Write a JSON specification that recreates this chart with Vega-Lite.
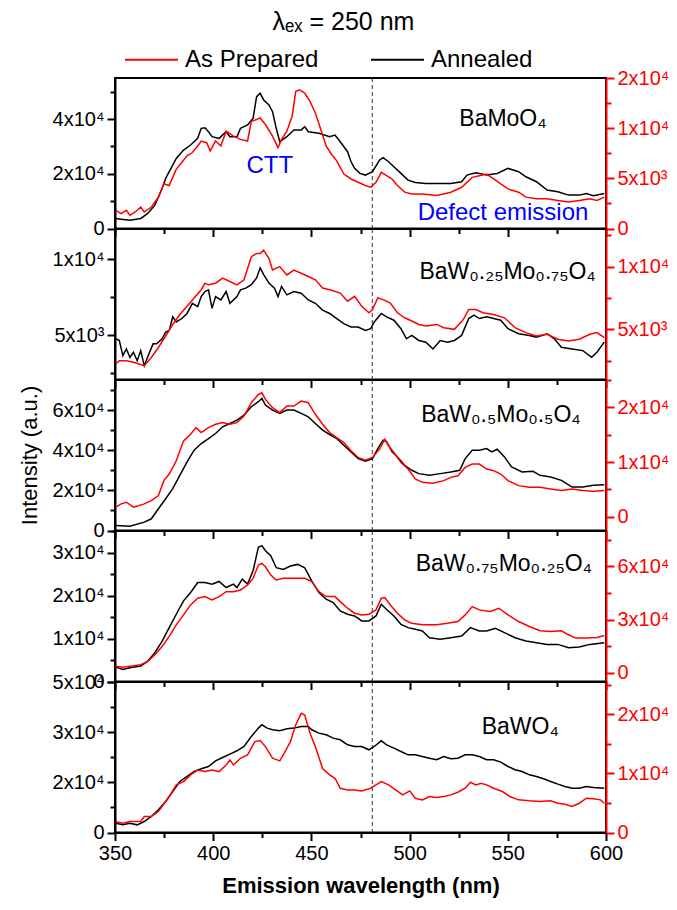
{
"$schema": "https://vega.github.io/schema/vega-lite/v6.json",
"padding": {"left": 17, "top": 10, "right": 5, "bottom": 10},
"bounds": "flush",
"spacing": 0,
"title": {"text": "λₑₓ = 250 nm", "fontSize": 25, "fontWeight": "normal", "font": "Liberation Sans", "anchor": "middle", "offset": -3, "dx": 0, "color": "#000"},
"config": {
  "font": "Liberation Sans",
  "view": {"stroke": "#000", "strokeWidth": 2},
  "axis": {"grid": false, "domainColor": "#000", "domainWidth": 2, "tickColor": "#000", "tickWidth": 2, "labelFontSize": 20, "labelColor": "#000", "labelOverlap": false, "labelFlush": false, "labelBound": false, "labelPadding": 3, "titleFontWeight": "normal", "titleColor": "#000", "labelFont": "Liberation Sans", "titleFont": "Liberation Sans"}
},
"datasets": {
"labels": [
{"p":1,"k":"sample","t":"BaMoO₄","x":525.3,"y":37400},
{"p":1,"k":"note","t":"CTT","x":416.9,"y":20167},
{"p":1,"k":"note","t":"Defect emission","x":504.1,"y":3043},
{"p":2,"k":"sample","t":"BaW₀.₂₅Mo₀.₇₅O₄","x":505.0,"y":8700},
{"p":3,"k":"sample","t":"BaW₀.₅Mo₀.₅O₄","x":505.9,"y":54150},
{"p":4,"k":"sample","t":"BaW₀.₇₅Mo₀.₂₅O₄","x":503.1,"y":25670},
{"p":5,"k":"sample","t":"BaWO₄","x":536.7,"y":29310}
],
"d": [
{"p":1,"s":"A","x":350.4,"v":3660},{"p":1,"s":"A","x":353.1,"v":3420},{"p":1,"s":"A","x":357.6,"v":3050},{"p":1,"s":"A","x":363.1,"v":3660},{"p":1,"s":"A","x":366.7,"v":5490},{"p":1,"s":"A","x":370.3,"v":8540},{"p":1,"s":"A","x":374.0,"v":14640},{"p":1,"s":"A","x":375.8,"v":18300},{"p":1,"s":"A","x":381.2,"v":25620},{"p":1,"s":"A","x":384.9,"v":28670},{"p":1,"s":"A","x":388.5,"v":30500},{"p":1,"s":"A","x":392.1,"v":32940},{"p":1,"s":"A","x":393.9,"v":36600},{"p":1,"s":"A","x":395.8,"v":36840},{"p":1,"s":"A","x":397.6,"v":35380},{"p":1,"s":"A","x":399.4,"v":33550},{"p":1,"s":"A","x":403.0,"v":32940},{"p":1,"s":"A","x":406.6,"v":35380},{"p":1,"s":"A","x":408.5,"v":33550},{"p":1,"s":"A","x":412.1,"v":33550},{"p":1,"s":"A","x":413.9,"v":36600},{"p":1,"s":"A","x":417.5,"v":37820},{"p":1,"s":"A","x":420.3,"v":40260},{"p":1,"s":"A","x":422.1,"v":48190},{"p":1,"s":"A","x":423.9,"v":49410},{"p":1,"s":"A","x":425.7,"v":46970},{"p":1,"s":"A","x":428.4,"v":45140},{"p":1,"s":"A","x":430.2,"v":42700},{"p":1,"s":"A","x":432.1,"v":36600},{"p":1,"s":"A","x":433.9,"v":31720},{"p":1,"s":"A","x":437.5,"v":33550},{"p":1,"s":"A","x":441.1,"v":35990},{"p":1,"s":"A","x":444.8,"v":35990},{"p":1,"s":"A","x":446.6,"v":37210},{"p":1,"s":"A","x":448.4,"v":35380},{"p":1,"s":"A","x":453.8,"v":34770},{"p":1,"s":"A","x":459.3,"v":33550},{"p":1,"s":"A","x":462.0,"v":34160},{"p":1,"s":"A","x":464.7,"v":31720},{"p":1,"s":"A","x":468.4,"v":28060},{"p":1,"s":"A","x":470.2,"v":24400},{"p":1,"s":"A","x":472.0,"v":21960},{"p":1,"s":"A","x":474.7,"v":20130},{"p":1,"s":"A","x":477.5,"v":19520},{"p":1,"s":"A","x":481.1,"v":20740},{"p":1,"s":"A","x":484.7,"v":25010},{"p":1,"s":"A","x":486.5,"v":25860},{"p":1,"s":"A","x":489.3,"v":24400},{"p":1,"s":"A","x":492.0,"v":22570},{"p":1,"s":"A","x":495.6,"v":20130},{"p":1,"s":"A","x":499.2,"v":17690},{"p":1,"s":"A","x":502.9,"v":16840},{"p":1,"s":"A","x":508.3,"v":16470},{"p":1,"s":"A","x":513.8,"v":16470},{"p":1,"s":"A","x":521.0,"v":16470},{"p":1,"s":"A","x":526.5,"v":17080},{"p":1,"s":"A","x":529.2,"v":19520},{"p":1,"s":"A","x":533.7,"v":20370},{"p":1,"s":"A","x":539.2,"v":19520},{"p":1,"s":"A","x":544.6,"v":20130},{"p":1,"s":"A","x":550.1,"v":21960},{"p":1,"s":"A","x":555.5,"v":20740},{"p":1,"s":"A","x":559.2,"v":18910},{"p":1,"s":"A","x":564.6,"v":17080},{"p":1,"s":"A","x":570.0,"v":14030},{"p":1,"s":"A","x":575.5,"v":13420},{"p":1,"s":"A","x":580.9,"v":12200},{"p":1,"s":"A","x":586.4,"v":12200},{"p":1,"s":"A","x":590.0,"v":12810},{"p":1,"s":"A","x":593.6,"v":11960},{"p":1,"s":"A","x":599.1,"v":12810},
{"p":1,"s":"P","x":350.4,"v":1810},{"p":1,"s":"P","x":353.1,"v":1480},{"p":1,"s":"P","x":355.8,"v":1810},{"p":1,"s":"P","x":357.6,"v":1316},{"p":1,"s":"P","x":360.3,"v":1645},{"p":1,"s":"P","x":363.1,"v":2140},{"p":1,"s":"P","x":364.9,"v":1645},{"p":1,"s":"P","x":368.5,"v":2140},{"p":1,"s":"P","x":372.1,"v":3125},{"p":1,"s":"P","x":374.9,"v":4440},{"p":1,"s":"P","x":377.6,"v":4280},{"p":1,"s":"P","x":381.2,"v":5920},{"p":1,"s":"P","x":384.0,"v":6580},{"p":1,"s":"P","x":386.7,"v":7240},{"p":1,"s":"P","x":389.4,"v":7570},{"p":1,"s":"P","x":392.1,"v":8225},{"p":1,"s":"P","x":393.9,"v":8720},{"p":1,"s":"P","x":396.7,"v":8550},{"p":1,"s":"P","x":398.5,"v":7730},{"p":1,"s":"P","x":401.2,"v":8720},{"p":1,"s":"P","x":403.9,"v":8225},{"p":1,"s":"P","x":406.6,"v":9700},{"p":1,"s":"P","x":410.3,"v":9210},{"p":1,"s":"P","x":413.9,"v":8880},{"p":1,"s":"P","x":417.5,"v":8720},{"p":1,"s":"P","x":419.4,"v":10690},{"p":1,"s":"P","x":422.1,"v":10860},{"p":1,"s":"P","x":423.9,"v":11020},{"p":1,"s":"P","x":426.6,"v":10360},{"p":1,"s":"P","x":430.2,"v":9210},{"p":1,"s":"P","x":433.0,"v":8060},{"p":1,"s":"P","x":434.8,"v":8880},{"p":1,"s":"P","x":437.5,"v":9700},{"p":1,"s":"P","x":440.2,"v":11190},{"p":1,"s":"P","x":442.0,"v":13650},{"p":1,"s":"P","x":443.9,"v":13820},{"p":1,"s":"P","x":446.6,"v":13490},{"p":1,"s":"P","x":449.3,"v":12670},{"p":1,"s":"P","x":452.0,"v":11520},{"p":1,"s":"P","x":454.8,"v":9870},{"p":1,"s":"P","x":457.5,"v":8225},{"p":1,"s":"P","x":460.2,"v":7400},{"p":1,"s":"P","x":462.9,"v":6740},{"p":1,"s":"P","x":466.5,"v":5430},{"p":1,"s":"P","x":470.2,"v":4935},{"p":1,"s":"P","x":473.8,"v":4610},{"p":1,"s":"P","x":477.5,"v":4280},{"p":1,"s":"P","x":480.2,"v":4110},{"p":1,"s":"P","x":482.9,"v":4610},{"p":1,"s":"P","x":485.6,"v":5590},{"p":1,"s":"P","x":488.3,"v":5260},{"p":1,"s":"P","x":491.1,"v":4935},{"p":1,"s":"P","x":493.8,"v":4280},{"p":1,"s":"P","x":497.5,"v":3620},{"p":1,"s":"P","x":501.1,"v":3450},{"p":1,"s":"P","x":506.5,"v":3450},{"p":1,"s":"P","x":513.8,"v":3290},{"p":1,"s":"P","x":521.0,"v":3620},{"p":1,"s":"P","x":526.5,"v":4110},{"p":1,"s":"P","x":531.9,"v":5100},{"p":1,"s":"P","x":535.5,"v":5260},{"p":1,"s":"P","x":539.2,"v":5430},{"p":1,"s":"P","x":542.8,"v":4935},{"p":1,"s":"P","x":546.4,"v":4440},{"p":1,"s":"P","x":550.1,"v":3950},{"p":1,"s":"P","x":555.5,"v":3620},{"p":1,"s":"P","x":559.2,"v":3125},{"p":1,"s":"P","x":564.6,"v":2960},{"p":1,"s":"P","x":570.0,"v":2960},{"p":1,"s":"P","x":575.5,"v":2800},{"p":1,"s":"P","x":580.9,"v":2630},{"p":1,"s":"P","x":586.4,"v":2800},{"p":1,"s":"P","x":591.8,"v":2960},{"p":1,"s":"P","x":595.4,"v":2800},{"p":1,"s":"P","x":599.1,"v":3125},
{"p":2,"s":"A","x":350.4,"v":4778},{"p":2,"s":"A","x":352.2,"v":4667},{"p":2,"s":"A","x":354.0,"v":3667},{"p":2,"s":"A","x":355.8,"v":4111},{"p":2,"s":"A","x":357.6,"v":3556},{"p":2,"s":"A","x":359.4,"v":3889},{"p":2,"s":"A","x":361.3,"v":3333},{"p":2,"s":"A","x":363.1,"v":4000},{"p":2,"s":"A","x":364.9,"v":3000},{"p":2,"s":"A","x":367.6,"v":3889},{"p":2,"s":"A","x":369.4,"v":4444},{"p":2,"s":"A","x":371.2,"v":4444},{"p":2,"s":"A","x":374.0,"v":4778},{"p":2,"s":"A","x":375.8,"v":5222},{"p":2,"s":"A","x":377.6,"v":5333},{"p":2,"s":"A","x":379.4,"v":6222},{"p":2,"s":"A","x":381.2,"v":5889},{"p":2,"s":"A","x":384.0,"v":6111},{"p":2,"s":"A","x":386.7,"v":6444},{"p":2,"s":"A","x":389.4,"v":7111},{"p":2,"s":"A","x":392.1,"v":6889},{"p":2,"s":"A","x":393.9,"v":7556},{"p":2,"s":"A","x":395.8,"v":7889},{"p":2,"s":"A","x":397.6,"v":8000},{"p":2,"s":"A","x":399.4,"v":6778},{"p":2,"s":"A","x":401.2,"v":7556},{"p":2,"s":"A","x":403.9,"v":7333},{"p":2,"s":"A","x":406.6,"v":7889},{"p":2,"s":"A","x":408.5,"v":7111},{"p":2,"s":"A","x":412.1,"v":7556},{"p":2,"s":"A","x":413.9,"v":8000},{"p":2,"s":"A","x":416.6,"v":8111},{"p":2,"s":"A","x":419.4,"v":8333},{"p":2,"s":"A","x":422.1,"v":8778},{"p":2,"s":"A","x":423.9,"v":9444},{"p":2,"s":"A","x":425.7,"v":9000},{"p":2,"s":"A","x":428.4,"v":8444},{"p":2,"s":"A","x":431.2,"v":8111},{"p":2,"s":"A","x":433.0,"v":7556},{"p":2,"s":"A","x":434.8,"v":8222},{"p":2,"s":"A","x":437.5,"v":7667},{"p":2,"s":"A","x":441.1,"v":7889},{"p":2,"s":"A","x":444.8,"v":7778},{"p":2,"s":"A","x":448.4,"v":7333},{"p":2,"s":"A","x":452.0,"v":7111},{"p":2,"s":"A","x":455.7,"v":6667},{"p":2,"s":"A","x":459.3,"v":6444},{"p":2,"s":"A","x":462.9,"v":6111},{"p":2,"s":"A","x":466.5,"v":5778},{"p":2,"s":"A","x":470.2,"v":5556},{"p":2,"s":"A","x":473.8,"v":5556},{"p":2,"s":"A","x":477.5,"v":5333},{"p":2,"s":"A","x":480.2,"v":5444},{"p":2,"s":"A","x":482.0,"v":5889},{"p":2,"s":"A","x":485.6,"v":6444},{"p":2,"s":"A","x":488.3,"v":6222},{"p":2,"s":"A","x":492.0,"v":6000},{"p":2,"s":"A","x":495.6,"v":5444},{"p":2,"s":"A","x":498.4,"v":4778},{"p":2,"s":"A","x":501.1,"v":5000},{"p":2,"s":"A","x":504.7,"v":4667},{"p":2,"s":"A","x":508.3,"v":4556},{"p":2,"s":"A","x":511.9,"v":4111},{"p":2,"s":"A","x":515.6,"v":4667},{"p":2,"s":"A","x":519.2,"v":4556},{"p":2,"s":"A","x":522.8,"v":4667},{"p":2,"s":"A","x":526.5,"v":5000},{"p":2,"s":"A","x":530.1,"v":6111},{"p":2,"s":"A","x":532.8,"v":6333},{"p":2,"s":"A","x":535.5,"v":6111},{"p":2,"s":"A","x":539.2,"v":6222},{"p":2,"s":"A","x":542.8,"v":6111},{"p":2,"s":"A","x":546.4,"v":6000},{"p":2,"s":"A","x":550.1,"v":5444},{"p":2,"s":"A","x":555.5,"v":5111},{"p":2,"s":"A","x":561.0,"v":5000},{"p":2,"s":"A","x":564.6,"v":4889},{"p":2,"s":"A","x":570.0,"v":5111},{"p":2,"s":"A","x":573.7,"v":4778},{"p":2,"s":"A","x":577.3,"v":4222},{"p":2,"s":"A","x":582.7,"v":4111},{"p":2,"s":"A","x":588.2,"v":4000},{"p":2,"s":"A","x":592.7,"v":3556},{"p":2,"s":"A","x":595.4,"v":3889},{"p":2,"s":"A","x":599.1,"v":4556},
{"p":2,"s":"P","x":350.4,"v":2240},{"p":2,"s":"P","x":352.2,"v":2500},{"p":2,"s":"P","x":355.8,"v":2500},{"p":2,"s":"P","x":359.4,"v":2370},{"p":2,"s":"P","x":364.9,"v":2100},{"p":2,"s":"P","x":368.5,"v":2760},{"p":2,"s":"P","x":372.1,"v":3550},{"p":2,"s":"P","x":375.8,"v":4470},{"p":2,"s":"P","x":379.4,"v":5390},{"p":2,"s":"P","x":383.0,"v":6180},{"p":2,"s":"P","x":386.7,"v":6840},{"p":2,"s":"P","x":390.3,"v":7500},{"p":2,"s":"P","x":393.9,"v":8160},{"p":2,"s":"P","x":395.8,"v":8680},{"p":2,"s":"P","x":397.6,"v":8550},{"p":2,"s":"P","x":401.2,"v":8680},{"p":2,"s":"P","x":404.8,"v":9080},{"p":2,"s":"P","x":408.5,"v":8810},{"p":2,"s":"P","x":412.1,"v":8550},{"p":2,"s":"P","x":415.7,"v":8950},{"p":2,"s":"P","x":419.4,"v":10790},{"p":2,"s":"P","x":422.1,"v":11050},{"p":2,"s":"P","x":423.9,"v":11050},{"p":2,"s":"P","x":425.7,"v":11310},{"p":2,"s":"P","x":428.4,"v":10650},{"p":2,"s":"P","x":430.2,"v":9730},{"p":2,"s":"P","x":433.9,"v":10000},{"p":2,"s":"P","x":437.5,"v":9340},{"p":2,"s":"P","x":441.1,"v":9730},{"p":2,"s":"P","x":444.8,"v":9470},{"p":2,"s":"P","x":448.4,"v":9210},{"p":2,"s":"P","x":452.0,"v":8950},{"p":2,"s":"P","x":455.7,"v":8290},{"p":2,"s":"P","x":459.3,"v":8160},{"p":2,"s":"P","x":464.7,"v":7890},{"p":2,"s":"P","x":468.4,"v":7240},{"p":2,"s":"P","x":472.0,"v":7630},{"p":2,"s":"P","x":475.6,"v":6840},{"p":2,"s":"P","x":479.3,"v":6320},{"p":2,"s":"P","x":481.1,"v":6580},{"p":2,"s":"P","x":483.8,"v":7500},{"p":2,"s":"P","x":486.5,"v":7370},{"p":2,"s":"P","x":490.2,"v":7100},{"p":2,"s":"P","x":493.8,"v":6320},{"p":2,"s":"P","x":497.5,"v":5920},{"p":2,"s":"P","x":501.1,"v":5660},{"p":2,"s":"P","x":504.7,"v":5390},{"p":2,"s":"P","x":508.3,"v":5260},{"p":2,"s":"P","x":513.8,"v":5390},{"p":2,"s":"P","x":517.4,"v":5130},{"p":2,"s":"P","x":522.8,"v":5000},{"p":2,"s":"P","x":527.4,"v":5790},{"p":2,"s":"P","x":530.1,"v":6580},{"p":2,"s":"P","x":533.7,"v":6580},{"p":2,"s":"P","x":537.4,"v":6320},{"p":2,"s":"P","x":542.8,"v":6180},{"p":2,"s":"P","x":548.3,"v":5920},{"p":2,"s":"P","x":553.7,"v":5130},{"p":2,"s":"P","x":559.2,"v":4740},{"p":2,"s":"P","x":564.6,"v":4470},{"p":2,"s":"P","x":570.0,"v":4610},{"p":2,"s":"P","x":575.5,"v":4210},{"p":2,"s":"P","x":580.9,"v":4080},{"p":2,"s":"P","x":586.4,"v":4210},{"p":2,"s":"P","x":591.8,"v":4610},{"p":2,"s":"P","x":595.4,"v":4740},{"p":2,"s":"P","x":599.1,"v":4340},
{"p":3,"s":"A","x":350.4,"v":2500},{"p":3,"s":"A","x":357.6,"v":2170},{"p":3,"s":"A","x":364.9,"v":4170},{"p":3,"s":"A","x":368.5,"v":5830},{"p":3,"s":"A","x":372.1,"v":10830},{"p":3,"s":"A","x":375.8,"v":15830},{"p":3,"s":"A","x":379.4,"v":20840},{"p":3,"s":"A","x":383.0,"v":27500},{"p":3,"s":"A","x":386.7,"v":34170},{"p":3,"s":"A","x":390.3,"v":40010},{"p":3,"s":"A","x":393.9,"v":43340},{"p":3,"s":"A","x":397.6,"v":45840},{"p":3,"s":"A","x":401.2,"v":48340},{"p":3,"s":"A","x":404.8,"v":51680},{"p":3,"s":"A","x":408.5,"v":53340},{"p":3,"s":"A","x":412.1,"v":55010},{"p":3,"s":"A","x":415.7,"v":57510},{"p":3,"s":"A","x":419.4,"v":61680},{"p":3,"s":"A","x":423.0,"v":64180},{"p":3,"s":"A","x":424.8,"v":65850},{"p":3,"s":"A","x":426.6,"v":62510},{"p":3,"s":"A","x":430.2,"v":60010},{"p":3,"s":"A","x":433.9,"v":58340},{"p":3,"s":"A","x":437.5,"v":60010},{"p":3,"s":"A","x":441.1,"v":60010},{"p":3,"s":"A","x":444.8,"v":58340},{"p":3,"s":"A","x":448.4,"v":56680},{"p":3,"s":"A","x":452.0,"v":53340},{"p":3,"s":"A","x":455.7,"v":50010},{"p":3,"s":"A","x":459.3,"v":47840},{"p":3,"s":"A","x":462.9,"v":45840},{"p":3,"s":"A","x":466.5,"v":42510},{"p":3,"s":"A","x":470.2,"v":39180},{"p":3,"s":"A","x":473.8,"v":35840},{"p":3,"s":"A","x":477.5,"v":34510},{"p":3,"s":"A","x":481.1,"v":35840},{"p":3,"s":"A","x":483.8,"v":40840},{"p":3,"s":"A","x":486.5,"v":45010},{"p":3,"s":"A","x":488.3,"v":44170},{"p":3,"s":"A","x":491.1,"v":39180},{"p":3,"s":"A","x":493.8,"v":36670},{"p":3,"s":"A","x":497.5,"v":32510},{"p":3,"s":"A","x":501.1,"v":30010},{"p":3,"s":"A","x":504.7,"v":28340},{"p":3,"s":"A","x":510.1,"v":27510},{"p":3,"s":"A","x":515.6,"v":28340},{"p":3,"s":"A","x":521.0,"v":29170},{"p":3,"s":"A","x":525.5,"v":30010},{"p":3,"s":"A","x":528.3,"v":35840},{"p":3,"s":"A","x":531.9,"v":40010},{"p":3,"s":"A","x":535.5,"v":40010},{"p":3,"s":"A","x":539.2,"v":40840},{"p":3,"s":"A","x":541.9,"v":39180},{"p":3,"s":"A","x":544.6,"v":40510},{"p":3,"s":"A","x":548.3,"v":36670},{"p":3,"s":"A","x":551.9,"v":31670},{"p":3,"s":"A","x":557.3,"v":29170},{"p":3,"s":"A","x":562.8,"v":29510},{"p":3,"s":"A","x":566.4,"v":27510},{"p":3,"s":"A","x":571.8,"v":26670},{"p":3,"s":"A","x":577.3,"v":25010},{"p":3,"s":"A","x":582.7,"v":21670},{"p":3,"s":"A","x":588.2,"v":21670},{"p":3,"s":"A","x":593.6,"v":22500},{"p":3,"s":"A","x":599.1,"v":22840},
{"p":3,"s":"P","x":350.4,"v":1760},{"p":3,"s":"P","x":353.1,"v":2360},{"p":3,"s":"P","x":355.8,"v":2670},{"p":3,"s":"P","x":359.4,"v":1760},{"p":3,"s":"P","x":364.9,"v":2360},{"p":3,"s":"P","x":368.5,"v":2970},{"p":3,"s":"P","x":372.1,"v":3880},{"p":3,"s":"P","x":374.9,"v":6610},{"p":3,"s":"P","x":377.6,"v":7820},{"p":3,"s":"P","x":381.2,"v":10240},{"p":3,"s":"P","x":384.9,"v":13880},{"p":3,"s":"P","x":388.5,"v":15090},{"p":3,"s":"P","x":391.2,"v":16300},{"p":3,"s":"P","x":393.9,"v":15390},{"p":3,"s":"P","x":397.6,"v":16300},{"p":3,"s":"P","x":401.2,"v":16910},{"p":3,"s":"P","x":404.8,"v":17210},{"p":3,"s":"P","x":408.5,"v":16910},{"p":3,"s":"P","x":412.1,"v":17210},{"p":3,"s":"P","x":415.7,"v":18420},{"p":3,"s":"P","x":419.4,"v":20850},{"p":3,"s":"P","x":423.0,"v":22360},{"p":3,"s":"P","x":424.8,"v":22660},{"p":3,"s":"P","x":426.6,"v":21450},{"p":3,"s":"P","x":430.2,"v":19940},{"p":3,"s":"P","x":433.9,"v":19030},{"p":3,"s":"P","x":437.5,"v":20240},{"p":3,"s":"P","x":441.1,"v":20240},{"p":3,"s":"P","x":444.8,"v":21150},{"p":3,"s":"P","x":448.4,"v":20850},{"p":3,"s":"P","x":452.0,"v":18730},{"p":3,"s":"P","x":455.7,"v":16910},{"p":3,"s":"P","x":459.3,"v":15390},{"p":3,"s":"P","x":462.9,"v":14480},{"p":3,"s":"P","x":466.5,"v":13570},{"p":3,"s":"P","x":470.2,"v":12060},{"p":3,"s":"P","x":473.8,"v":10850},{"p":3,"s":"P","x":477.5,"v":10360},{"p":3,"s":"P","x":481.1,"v":10850},{"p":3,"s":"P","x":484.7,"v":12360},{"p":3,"s":"P","x":487.4,"v":14180},{"p":3,"s":"P","x":489.3,"v":12970},{"p":3,"s":"P","x":492.0,"v":11760},{"p":3,"s":"P","x":495.6,"v":9940},{"p":3,"s":"P","x":499.2,"v":8730},{"p":3,"s":"P","x":502.9,"v":6910},{"p":3,"s":"P","x":506.5,"v":6300},{"p":3,"s":"P","x":511.9,"v":6120},{"p":3,"s":"P","x":517.4,"v":6610},{"p":3,"s":"P","x":521.0,"v":7210},{"p":3,"s":"P","x":524.6,"v":7510},{"p":3,"s":"P","x":528.3,"v":9030},{"p":3,"s":"P","x":531.9,"v":9640},{"p":3,"s":"P","x":535.5,"v":9640},{"p":3,"s":"P","x":539.2,"v":8730},{"p":3,"s":"P","x":542.8,"v":8430},{"p":3,"s":"P","x":546.4,"v":7820},{"p":3,"s":"P","x":550.1,"v":6610},{"p":3,"s":"P","x":555.5,"v":5700},{"p":3,"s":"P","x":561.0,"v":5390},{"p":3,"s":"P","x":566.4,"v":5390},{"p":3,"s":"P","x":571.8,"v":5090},{"p":3,"s":"P","x":577.3,"v":4790},{"p":3,"s":"P","x":582.7,"v":5090},{"p":3,"s":"P","x":588.2,"v":4790},{"p":3,"s":"P","x":593.6,"v":4670},{"p":3,"s":"P","x":599.1,"v":4790},
{"p":4,"s":"A","x":350.4,"v":3350},{"p":4,"s":"A","x":354.0,"v":2800},{"p":4,"s":"A","x":357.6,"v":3190},{"p":4,"s":"A","x":363.1,"v":3580},{"p":4,"s":"A","x":366.7,"v":4750},{"p":4,"s":"A","x":370.3,"v":6690},{"p":4,"s":"A","x":374.0,"v":9410},{"p":4,"s":"A","x":377.6,"v":12530},{"p":4,"s":"A","x":381.2,"v":15640},{"p":4,"s":"A","x":384.9,"v":18750},{"p":4,"s":"A","x":388.5,"v":20690},{"p":4,"s":"A","x":392.1,"v":23030},{"p":4,"s":"A","x":395.8,"v":23030},{"p":4,"s":"A","x":399.4,"v":22640},{"p":4,"s":"A","x":403.0,"v":23260},{"p":4,"s":"A","x":406.6,"v":21860},{"p":4,"s":"A","x":410.3,"v":22640},{"p":4,"s":"A","x":412.1,"v":21860},{"p":4,"s":"A","x":414.8,"v":23810},{"p":4,"s":"A","x":417.5,"v":22640},{"p":4,"s":"A","x":420.3,"v":25750},{"p":4,"s":"A","x":423.0,"v":31200},{"p":4,"s":"A","x":424.8,"v":31590},{"p":4,"s":"A","x":426.6,"v":30420},{"p":4,"s":"A","x":429.3,"v":29250},{"p":4,"s":"A","x":432.1,"v":26460},{"p":4,"s":"A","x":435.7,"v":26070},{"p":4,"s":"A","x":439.3,"v":26850},{"p":4,"s":"A","x":443.0,"v":27230},{"p":4,"s":"A","x":446.6,"v":26460},{"p":4,"s":"A","x":450.2,"v":23340},{"p":4,"s":"A","x":453.8,"v":20690},{"p":4,"s":"A","x":457.5,"v":19140},{"p":4,"s":"A","x":461.1,"v":18360},{"p":4,"s":"A","x":464.7,"v":16420},{"p":4,"s":"A","x":468.4,"v":15640},{"p":4,"s":"A","x":472.0,"v":15250},{"p":4,"s":"A","x":475.6,"v":14080},{"p":4,"s":"A","x":479.3,"v":14080},{"p":4,"s":"A","x":482.9,"v":15250},{"p":4,"s":"A","x":485.6,"v":17970},{"p":4,"s":"A","x":488.3,"v":16730},{"p":4,"s":"A","x":492.0,"v":15250},{"p":4,"s":"A","x":495.6,"v":13300},{"p":4,"s":"A","x":499.2,"v":12530},{"p":4,"s":"A","x":502.9,"v":12140},{"p":4,"s":"A","x":506.5,"v":11750},{"p":4,"s":"A","x":510.1,"v":10190},{"p":4,"s":"A","x":515.6,"v":9800},{"p":4,"s":"A","x":521.0,"v":10190},{"p":4,"s":"A","x":526.5,"v":10580},{"p":4,"s":"A","x":531.0,"v":12530},{"p":4,"s":"A","x":535.5,"v":11750},{"p":4,"s":"A","x":539.2,"v":11750},{"p":4,"s":"A","x":543.7,"v":12370},{"p":4,"s":"A","x":548.3,"v":11360},{"p":4,"s":"A","x":553.7,"v":10190},{"p":4,"s":"A","x":559.2,"v":9410},{"p":4,"s":"A","x":564.6,"v":9020},{"p":4,"s":"A","x":570.0,"v":8630},{"p":4,"s":"A","x":575.5,"v":8630},{"p":4,"s":"A","x":580.9,"v":7860},{"p":4,"s":"A","x":586.4,"v":8010},{"p":4,"s":"A","x":591.8,"v":8630},{"p":4,"s":"A","x":599.1,"v":9020},
{"p":4,"s":"P","x":350.4,"v":3560},{"p":4,"s":"P","x":354.0,"v":3000},{"p":4,"s":"P","x":357.6,"v":3560},{"p":4,"s":"P","x":363.1,"v":4500},{"p":4,"s":"P","x":366.7,"v":6380},{"p":4,"s":"P","x":370.3,"v":10130},{"p":4,"s":"P","x":374.0,"v":14810},{"p":4,"s":"P","x":377.6,"v":20440},{"p":4,"s":"P","x":381.2,"v":27000},{"p":4,"s":"P","x":384.9,"v":32630},{"p":4,"s":"P","x":388.5,"v":38250},{"p":4,"s":"P","x":392.1,"v":42000},{"p":4,"s":"P","x":395.8,"v":42940},{"p":4,"s":"P","x":399.4,"v":41060},{"p":4,"s":"P","x":403.0,"v":42940},{"p":4,"s":"P","x":406.6,"v":45750},{"p":4,"s":"P","x":410.3,"v":45750},{"p":4,"s":"P","x":413.9,"v":46690},{"p":4,"s":"P","x":417.5,"v":49500},{"p":4,"s":"P","x":420.3,"v":53250},{"p":4,"s":"P","x":423.0,"v":60750},{"p":4,"s":"P","x":424.8,"v":61690},{"p":4,"s":"P","x":426.6,"v":59810},{"p":4,"s":"P","x":429.3,"v":55130},{"p":4,"s":"P","x":432.1,"v":52310},{"p":4,"s":"P","x":435.7,"v":53250},{"p":4,"s":"P","x":441.1,"v":53250},{"p":4,"s":"P","x":446.6,"v":53250},{"p":4,"s":"P","x":450.2,"v":51380},{"p":4,"s":"P","x":453.8,"v":45750},{"p":4,"s":"P","x":457.5,"v":42940},{"p":4,"s":"P","x":462.0,"v":42940},{"p":4,"s":"P","x":464.7,"v":40130},{"p":4,"s":"P","x":468.4,"v":36380},{"p":4,"s":"P","x":472.0,"v":33560},{"p":4,"s":"P","x":475.6,"v":32630},{"p":4,"s":"P","x":479.3,"v":33000},{"p":4,"s":"P","x":482.9,"v":35440},{"p":4,"s":"P","x":485.6,"v":42000},{"p":4,"s":"P","x":487.4,"v":42380},{"p":4,"s":"P","x":490.2,"v":38250},{"p":4,"s":"P","x":493.8,"v":33560},{"p":4,"s":"P","x":497.5,"v":29810},{"p":4,"s":"P","x":501.1,"v":27940},{"p":4,"s":"P","x":506.5,"v":27000},{"p":4,"s":"P","x":513.8,"v":27000},{"p":4,"s":"P","x":519.2,"v":27940},{"p":4,"s":"P","x":524.6,"v":28880},{"p":4,"s":"P","x":528.3,"v":32630},{"p":4,"s":"P","x":531.9,"v":37310},{"p":4,"s":"P","x":535.5,"v":35440},{"p":4,"s":"P","x":541.0,"v":34500},{"p":4,"s":"P","x":545.5,"v":36380},{"p":4,"s":"P","x":550.1,"v":32630},{"p":4,"s":"P","x":555.5,"v":28880},{"p":4,"s":"P","x":561.0,"v":26060},{"p":4,"s":"P","x":566.4,"v":23630},{"p":4,"s":"P","x":571.8,"v":23250},{"p":4,"s":"P","x":577.3,"v":23630},{"p":4,"s":"P","x":580.9,"v":21380},{"p":4,"s":"P","x":584.6,"v":19500},{"p":4,"s":"P","x":590.0,"v":19500},{"p":4,"s":"P","x":595.4,"v":19880},{"p":4,"s":"P","x":599.1,"v":21000},
{"p":5,"s":"A","x":350.4,"v":2790},{"p":5,"s":"A","x":354.0,"v":2290},{"p":5,"s":"A","x":357.6,"v":2790},{"p":5,"s":"A","x":361.3,"v":2290},{"p":5,"s":"A","x":364.9,"v":3290},{"p":5,"s":"A","x":368.5,"v":4790},{"p":5,"s":"A","x":372.1,"v":6780},{"p":5,"s":"A","x":375.8,"v":9270},{"p":5,"s":"A","x":379.4,"v":12260},{"p":5,"s":"A","x":383.0,"v":15250},{"p":5,"s":"A","x":386.7,"v":16750},{"p":5,"s":"A","x":390.3,"v":18250},{"p":5,"s":"A","x":393.9,"v":19040},{"p":5,"s":"A","x":397.6,"v":19740},{"p":5,"s":"A","x":401.2,"v":21440},{"p":5,"s":"A","x":404.8,"v":22430},{"p":5,"s":"A","x":408.5,"v":23430},{"p":5,"s":"A","x":412.1,"v":24430},{"p":5,"s":"A","x":415.7,"v":25720},{"p":5,"s":"A","x":419.4,"v":28710},{"p":5,"s":"A","x":423.0,"v":31210},{"p":5,"s":"A","x":424.8,"v":32200},{"p":5,"s":"A","x":427.5,"v":31210},{"p":5,"s":"A","x":430.2,"v":30710},{"p":5,"s":"A","x":433.9,"v":30410},{"p":5,"s":"A","x":437.5,"v":31010},{"p":5,"s":"A","x":441.1,"v":31210},{"p":5,"s":"A","x":444.8,"v":31710},{"p":5,"s":"A","x":448.4,"v":31710},{"p":5,"s":"A","x":450.2,"v":30710},{"p":5,"s":"A","x":453.8,"v":29710},{"p":5,"s":"A","x":457.5,"v":29210},{"p":5,"s":"A","x":461.1,"v":28210},{"p":5,"s":"A","x":464.7,"v":27720},{"p":5,"s":"A","x":468.4,"v":26220},{"p":5,"s":"A","x":472.0,"v":25720},{"p":5,"s":"A","x":475.6,"v":25720},{"p":5,"s":"A","x":479.3,"v":24730},{"p":5,"s":"A","x":482.0,"v":25720},{"p":5,"s":"A","x":485.6,"v":27420},{"p":5,"s":"A","x":488.3,"v":26220},{"p":5,"s":"A","x":492.0,"v":25220},{"p":5,"s":"A","x":495.6,"v":24230},{"p":5,"s":"A","x":499.2,"v":23230},{"p":5,"s":"A","x":502.9,"v":23230},{"p":5,"s":"A","x":506.5,"v":22730},{"p":5,"s":"A","x":510.1,"v":22230},{"p":5,"s":"A","x":513.8,"v":21740},{"p":5,"s":"A","x":517.4,"v":22730},{"p":5,"s":"A","x":521.0,"v":22030},{"p":5,"s":"A","x":524.6,"v":22230},{"p":5,"s":"A","x":528.3,"v":23230},{"p":5,"s":"A","x":531.9,"v":23230},{"p":5,"s":"A","x":535.5,"v":22730},{"p":5,"s":"A","x":539.2,"v":21740},{"p":5,"s":"A","x":542.8,"v":21740},{"p":5,"s":"A","x":546.4,"v":21040},{"p":5,"s":"A","x":550.1,"v":19740},{"p":5,"s":"A","x":553.7,"v":18750},{"p":5,"s":"A","x":557.3,"v":18250},{"p":5,"s":"A","x":561.0,"v":17250},{"p":5,"s":"A","x":564.6,"v":16750},{"p":5,"s":"A","x":568.2,"v":16050},{"p":5,"s":"A","x":571.8,"v":15250},{"p":5,"s":"A","x":575.5,"v":14460},{"p":5,"s":"A","x":579.1,"v":13760},{"p":5,"s":"A","x":582.7,"v":13260},{"p":5,"s":"A","x":586.4,"v":13260},{"p":5,"s":"A","x":590.0,"v":13760},{"p":5,"s":"A","x":593.6,"v":13460},{"p":5,"s":"A","x":599.1,"v":13260},
{"p":5,"s":"P","x":350.4,"v":1860},{"p":5,"s":"P","x":354.0,"v":1580},{"p":5,"s":"P","x":357.6,"v":1860},{"p":5,"s":"P","x":363.1,"v":1860},{"p":5,"s":"P","x":364.9,"v":2710},{"p":5,"s":"P","x":368.5,"v":2710},{"p":5,"s":"P","x":372.1,"v":3550},{"p":5,"s":"P","x":375.8,"v":5250},{"p":5,"s":"P","x":377.6,"v":6090},{"p":5,"s":"P","x":381.2,"v":8070},{"p":5,"s":"P","x":384.9,"v":8630},{"p":5,"s":"P","x":388.5,"v":9760},{"p":5,"s":"P","x":392.1,"v":10600},{"p":5,"s":"P","x":395.8,"v":10320},{"p":5,"s":"P","x":399.4,"v":10600},{"p":5,"s":"P","x":403.0,"v":10320},{"p":5,"s":"P","x":406.6,"v":11450},{"p":5,"s":"P","x":408.5,"v":12300},{"p":5,"s":"P","x":410.3,"v":11450},{"p":5,"s":"P","x":413.9,"v":12580},{"p":5,"s":"P","x":417.5,"v":13160},{"p":5,"s":"P","x":421.2,"v":15400},{"p":5,"s":"P","x":423.9,"v":15570},{"p":5,"s":"P","x":426.6,"v":14550},{"p":5,"s":"P","x":430.2,"v":12580},{"p":5,"s":"P","x":433.9,"v":12130},{"p":5,"s":"P","x":436.6,"v":13710},{"p":5,"s":"P","x":439.3,"v":15400},{"p":5,"s":"P","x":442.0,"v":18220},{"p":5,"s":"P","x":444.8,"v":20190},{"p":5,"s":"P","x":446.6,"v":19910},{"p":5,"s":"P","x":449.3,"v":16810},{"p":5,"s":"P","x":452.0,"v":14550},{"p":5,"s":"P","x":455.7,"v":10830},{"p":5,"s":"P","x":459.3,"v":9760},{"p":5,"s":"P","x":462.0,"v":9190},{"p":5,"s":"P","x":464.7,"v":7500},{"p":5,"s":"P","x":468.4,"v":7220},{"p":5,"s":"P","x":472.0,"v":7220},{"p":5,"s":"P","x":475.6,"v":7050},{"p":5,"s":"P","x":480.2,"v":7500},{"p":5,"s":"P","x":482.9,"v":8070},{"p":5,"s":"P","x":485.6,"v":8630},{"p":5,"s":"P","x":489.3,"v":8070},{"p":5,"s":"P","x":492.9,"v":7220},{"p":5,"s":"P","x":496.5,"v":6370},{"p":5,"s":"P","x":500.1,"v":7050},{"p":5,"s":"P","x":502.9,"v":5810},{"p":5,"s":"P","x":506.5,"v":5530},{"p":5,"s":"P","x":510.1,"v":6090},{"p":5,"s":"P","x":513.8,"v":5920},{"p":5,"s":"P","x":517.4,"v":6090},{"p":5,"s":"P","x":521.0,"v":6370},{"p":5,"s":"P","x":524.6,"v":6820},{"p":5,"s":"P","x":528.3,"v":7500},{"p":5,"s":"P","x":531.0,"v":8520},{"p":5,"s":"P","x":533.7,"v":8070},{"p":5,"s":"P","x":536.4,"v":8350},{"p":5,"s":"P","x":539.2,"v":8070},{"p":5,"s":"P","x":542.8,"v":7500},{"p":5,"s":"P","x":547.3,"v":6940},{"p":5,"s":"P","x":551.0,"v":6090},{"p":5,"s":"P","x":555.5,"v":5530},{"p":5,"s":"P","x":561.0,"v":5360},{"p":5,"s":"P","x":566.4,"v":5250},{"p":5,"s":"P","x":571.8,"v":5360},{"p":5,"s":"P","x":575.5,"v":4960},{"p":5,"s":"P","x":579.1,"v":4790},{"p":5,"s":"P","x":582.7,"v":4400},{"p":5,"s":"P","x":586.4,"v":4960},{"p":5,"s":"P","x":590.0,"v":5810},{"p":5,"s":"P","x":593.6,"v":5700},{"p":5,"s":"P","x":597.2,"v":5530},{"p":5,"s":"P","x":599.1,"v":4960}
]
},
"vconcat": [
{
"width": 491, "height": 150.5,
"encoding": {"x": {"field": "x", "type": "quantitative", "scale": {"domain": [350, 600], "nice": false}, "axis": {"values": [350,375,400,425,450,475,500,525,550,575,600], "labels": false, "title": null, "tickSize": {"condition": {"test": "datum.value % 50 === 0", "value": 8}, "value": 5}}}},
"layer": [
{"data": {"values": [{"x": 481}]}, "mark": {"type": "rule", "strokeDash": [4, 3], "strokeWidth": 1, "color": "#333"}, "encoding": {}},
{"data": {"name": "d"}, "transform": [{"filter": "datum.p == 1 && datum.s == 'A'"}], "mark": {"type": "line", "strokeWidth": 1.5, "clip": true},
 "encoding": {
  "y": {"field": "v", "type": "quantitative", "scale": {"domain": [0, 55000], "nice": false, "zero": false}, "axis": {"orient": "left", "title": null, "values": [0,10000,20000,30000,40000,50000], "labelExpr": "datum.value == 0 ? '0' : datum.value == 20000 ? '2x10⁴' : datum.value == 40000 ? '4x10⁴' : ''", "tickSize": {"condition": {"test": "datum.value % 20000 === 0", "value": 8}, "value": 5}}},
  "color": {"field": "s", "type": "nominal", "scale": {"domain": ["P", "A"], "range": ["#ff0000", "#000000"]}, "legend": {"orient": "none", "legendX": 9, "legendY": -46, "direction": "horizontal", "title": null, "labelFontSize": 24, "labelFont": "Liberation Sans", "labelColor": "#000", "symbolType": "stroke", "symbolSize": 2809, "symbolStrokeWidth": 2, "columnPadding": 48, "labelOffset": 6, "labelLimit": 300, "labelExpr": "datum.label == 'P' ? 'As Prepared' : 'Annealed'"}}
 }},
{"data": {"name": "d"}, "transform": [{"filter": "datum.p == 1 && datum.s == 'P'"}], "mark": {"type": "line", "strokeWidth": 1.5, "clip": true},
 "encoding": {
  "y": {"field": "v", "type": "quantitative", "scale": {"domain": [0, 15000], "nice": false, "zero": false}, "axis": {"orient": "right", "title": null, "values": [0,2500,5000,7500,10000,12500,15000], "labelExpr": "datum.value == 0 ? '0' : datum.value == 5000 ? '5x10³' : datum.value == 10000 ? '1x10⁴' : datum.value == 15000 ? '2x10⁴' : ''", "tickSize": {"condition": {"test": "datum.value % 5000 === 0", "value": 8}, "value": 5}, "domainColor": "#ff0000", "tickColor": "#ff0000", "labelColor": "#ff0000"}},
  "color": {"field": "s", "type": "nominal", "scale": {"domain": ["P", "A"], "range": ["#ff0000", "#000000"]}}
 }},
{"data": {"name": "labels"}, "transform": [{"filter": "datum.p == 1 && datum.k == 'sample'"}], "mark": {"type": "text", "align": "left", "baseline": "alphabetic", "fontSize": 23, "color": "#000"},
 "encoding": {"y": {"field": "y", "type": "quantitative", "scale": {"domain": [0, 55000], "nice": false, "zero": false}, "axis": null}, "text": {"field": "t"}}},
{"data": {"name": "labels"}, "transform": [{"filter": "datum.p == 1 && datum.k == 'note'"}], "mark": {"type": "text", "align": "left", "baseline": "alphabetic", "fontSize": 24, "color": "#0000ff"},
 "encoding": {"y": {"field": "y", "type": "quantitative", "scale": {"domain": [0, 55000], "nice": false, "zero": false}, "axis": null}, "text": {"field": "t"}}}
],
"resolve": {"scale": {"y": "independent"}, "axis": {"y": "independent"}}
},
{
"width": 491, "height": 150.5,
"encoding": {"x": {"field": "x", "type": "quantitative", "scale": {"domain": [350, 600], "nice": false}, "axis": {"values": [350,375,400,425,450,475,500,525,550,575,600], "labels": false, "title": null, "tickSize": {"condition": {"test": "datum.value % 50 === 0", "value": 8}, "value": 5}}}},
"layer": [
{"data": {"values": [{"x": 481}]}, "mark": {"type": "rule", "strokeDash": [4, 3], "strokeWidth": 1, "color": "#333"}, "encoding": {}},
{"data": {"name": "d"}, "transform": [{"filter": "datum.p == 2 && datum.s == 'A'"}], "mark": {"type": "line", "strokeWidth": 1.5, "clip": true},
 "encoding": {
  "y": {"field": "v", "type": "quantitative", "scale": {"domain": [2100, 12000], "nice": false, "zero": false}, "axis": {"orient": "left", "title": null, "values": [2500,5000,7500,10000], "labelExpr": "datum.value == 5000 ? '5x10³' : datum.value == 10000 ? '1x10⁴' : ''", "tickSize": {"condition": {"test": "datum.value % 5000 === 0", "value": 8}, "value": 5}}},
  "color": {"field": "s", "type": "nominal", "scale": {"domain": ["P", "A"], "range": ["#ff0000", "#000000"]}}
 }},
{"data": {"name": "d"}, "transform": [{"filter": "datum.p == 2 && datum.s == 'P'"}], "mark": {"type": "line", "strokeWidth": 1.5, "clip": true},
 "encoding": {
  "y": {"field": "v", "type": "quantitative", "scale": {"domain": [1000, 13000], "nice": false, "zero": false}, "axis": {"orient": "right", "title": null, "values": [2500,5000,7500,10000,12500], "labelExpr": "datum.value == 5000 ? '5x10³' : datum.value == 10000 ? '1x10⁴' : ''", "tickSize": {"condition": {"test": "datum.value % 5000 === 0", "value": 8}, "value": 5}, "domainColor": "#ff0000", "tickColor": "#ff0000", "labelColor": "#ff0000"}},
  "color": {"field": "s", "type": "nominal", "scale": {"domain": ["P", "A"], "range": ["#ff0000", "#000000"]}}
 }},
{"data": {"name": "labels"}, "transform": [{"filter": "datum.p == 2"}], "mark": {"type": "text", "align": "left", "baseline": "alphabetic", "fontSize": 23, "color": "#000"},
 "encoding": {"y": {"field": "y", "type": "quantitative", "scale": {"domain": [2100, 12000], "nice": false, "zero": false}, "axis": null}, "text": {"field": "t"}}}
],
"resolve": {"scale": {"y": "independent"}, "axis": {"y": "independent"}}
},
{
"width": 491, "height": 150.5,
"encoding": {"x": {"field": "x", "type": "quantitative", "scale": {"domain": [350, 600], "nice": false}, "axis": {"values": [350,375,400,425,450,475,500,525,550,575,600], "labels": false, "title": null, "tickSize": {"condition": {"test": "datum.value % 50 === 0", "value": 8}, "value": 5}}}},
"layer": [
{"data": {"values": [{"x": 481}]}, "mark": {"type": "rule", "strokeDash": [4, 3], "strokeWidth": 1, "color": "#333"}, "encoding": {}},
{"data": {"name": "d"}, "transform": [{"filter": "datum.p == 3 && datum.s == 'A'"}], "mark": {"type": "line", "strokeWidth": 1.5, "clip": true},
 "encoding": {
  "y": {"field": "v", "type": "quantitative", "scale": {"domain": [0, 75000], "nice": false, "zero": false}, "axis": {"orient": "left", "title": "Intensity (a.u.)", "titleFontSize": 22, "titleX": -86, "titleY": 75, "titleAngle": -90, "titleAlign": "center", "titleBaseline": "middle", "values": [0,10000,20000,30000,40000,50000,60000,70000], "labelExpr": "datum.value == 0 ? '0' : datum.value == 20000 ? '2x10⁴' : datum.value == 40000 ? '4x10⁴' : datum.value == 60000 ? '6x10⁴' : ''", "tickSize": {"condition": {"test": "datum.value % 20000 === 0", "value": 8}, "value": 5}}},
  "color": {"field": "s", "type": "nominal", "scale": {"domain": ["P", "A"], "range": ["#ff0000", "#000000"]}}
 }},
{"data": {"name": "d"}, "transform": [{"filter": "datum.p == 3 && datum.s == 'P'"}], "mark": {"type": "line", "strokeWidth": 1.5, "clip": true},
 "encoding": {
  "y": {"field": "v", "type": "quantitative", "scale": {"domain": [-2500, 25000], "nice": false, "zero": false}, "axis": {"orient": "right", "title": null, "values": [0,5000,10000,15000,20000,25000], "labelExpr": "datum.value == 0 ? '0' : datum.value == 10000 ? '1x10⁴' : datum.value == 20000 ? '2x10⁴' : ''", "tickSize": {"condition": {"test": "datum.value % 10000 === 0", "value": 8}, "value": 5}, "domainColor": "#ff0000", "tickColor": "#ff0000", "labelColor": "#ff0000"}},
  "color": {"field": "s", "type": "nominal", "scale": {"domain": ["P", "A"], "range": ["#ff0000", "#000000"]}}
 }},
{"data": {"name": "labels"}, "transform": [{"filter": "datum.p == 3"}], "mark": {"type": "text", "align": "left", "baseline": "alphabetic", "fontSize": 23, "color": "#000"},
 "encoding": {"y": {"field": "y", "type": "quantitative", "scale": {"domain": [0, 75000], "nice": false, "zero": false}, "axis": null}, "text": {"field": "t"}}}
],
"resolve": {"scale": {"y": "independent"}, "axis": {"y": "independent"}}
},
{
"width": 491, "height": 150.5,
"encoding": {"x": {"field": "x", "type": "quantitative", "scale": {"domain": [350, 600], "nice": false}, "axis": {"values": [350,375,400,425,450,475,500,525,550,575,600], "labels": false, "title": null, "tickSize": {"condition": {"test": "datum.value % 50 === 0", "value": 8}, "value": 5}}}},
"layer": [
{"data": {"values": [{"x": 481}]}, "mark": {"type": "rule", "strokeDash": [4, 3], "strokeWidth": 1, "color": "#333"}, "encoding": {}},
{"data": {"name": "d"}, "transform": [{"filter": "datum.p == 4 && datum.s == 'A'"}], "mark": {"type": "line", "strokeWidth": 1.5, "clip": true},
 "encoding": {
  "y": {"field": "v", "type": "quantitative", "scale": {"domain": [0, 35000], "nice": false, "zero": false}, "axis": {"orient": "left", "title": null, "values": [0,5000,10000,15000,20000,25000,30000,35000], "labelExpr": "datum.value == 0 ? '0' : datum.value == 10000 ? '1x10⁴' : datum.value == 20000 ? '2x10⁴' : datum.value == 30000 ? '3x10⁴' : ''", "tickSize": {"condition": {"test": "datum.value % 10000 === 0", "value": 8}, "value": 5}}},
  "color": {"field": "s", "type": "nominal", "scale": {"domain": ["P", "A"], "range": ["#ff0000", "#000000"]}}
 }},
{"data": {"name": "d"}, "transform": [{"filter": "datum.p == 4 && datum.s == 'P'"}], "mark": {"type": "line", "strokeWidth": 1.5, "clip": true},
 "encoding": {
  "y": {"field": "v", "type": "quantitative", "scale": {"domain": [-5000, 80000], "nice": false, "zero": false}, "axis": {"orient": "right", "title": null, "values": [0,15000,30000,45000,60000,75000], "labelExpr": "datum.value == 0 ? '0' : datum.value == 30000 ? '3x10⁴' : datum.value == 60000 ? '6x10⁴' : ''", "tickSize": {"condition": {"test": "datum.value % 30000 === 0", "value": 8}, "value": 5}, "domainColor": "#ff0000", "tickColor": "#ff0000", "labelColor": "#ff0000"}},
  "color": {"field": "s", "type": "nominal", "scale": {"domain": ["P", "A"], "range": ["#ff0000", "#000000"]}}
 }},
{"data": {"name": "labels"}, "transform": [{"filter": "datum.p == 4"}], "mark": {"type": "text", "align": "left", "baseline": "alphabetic", "fontSize": 23, "color": "#000"},
 "encoding": {"y": {"field": "y", "type": "quantitative", "scale": {"domain": [0, 35000], "nice": false, "zero": false}, "axis": null}, "text": {"field": "t"}}}
],
"resolve": {"scale": {"y": "independent"}, "axis": {"y": "independent"}}
},
{
"width": 491, "height": 150.5,
"encoding": {"x": {"field": "x", "type": "quantitative", "scale": {"domain": [350, 600], "nice": false}, "axis": {"values": [350,375,400,425,450,475,500,525,550,575,600], "labelExpr": "datum.value % 50 === 0 ? datum.label : ''", "title": "Emission wavelength (nm)", "titleFontSize": 22, "titleFontWeight": "bold", "titlePadding": 12, "tickSize": {"condition": {"test": "datum.value % 50 === 0", "value": 8}, "value": 5}}}},
"layer": [
{"data": {"values": [{"x": 481}]}, "mark": {"type": "rule", "strokeDash": [4, 3], "strokeWidth": 1, "color": "#333"}, "encoding": {}},
{"data": {"name": "d"}, "transform": [{"filter": "datum.p == 5 && datum.s == 'A'"}], "mark": {"type": "line", "strokeWidth": 1.5, "clip": true},
 "encoding": {
  "y": {"field": "v", "type": "quantitative", "scale": {"domain": [0, 45000], "nice": false, "zero": false}, "axis": {"orient": "left", "title": null, "values": [0,7500,15000,22500,30000,37500,45000], "labelExpr": "datum.value == 0 ? '0' : datum.value == 15000 ? '2x10⁴' : datum.value == 30000 ? '3x10⁴' : datum.value == 45000 ? '5x10⁴' : ''", "tickSize": {"condition": {"test": "datum.value % 15000 === 0", "value": 8}, "value": 5}}},
  "color": {"field": "s", "type": "nominal", "scale": {"domain": ["P", "A"], "range": ["#ff0000", "#000000"]}}
 }},
{"data": {"name": "d"}, "transform": [{"filter": "datum.p == 5 && datum.s == 'P'"}], "mark": {"type": "line", "strokeWidth": 1.5, "clip": true},
 "encoding": {
  "y": {"field": "v", "type": "quantitative", "scale": {"domain": [0, 25500], "nice": false, "zero": false}, "axis": {"orient": "right", "title": null, "values": [0,5000,10000,15000,20000,25000], "labelExpr": "datum.value == 0 ? '0' : datum.value == 10000 ? '1x10⁴' : datum.value == 20000 ? '2x10⁴' : ''", "tickSize": {"condition": {"test": "datum.value % 10000 === 0", "value": 8}, "value": 5}, "domainColor": "#ff0000", "tickColor": "#ff0000", "labelColor": "#ff0000"}},
  "color": {"field": "s", "type": "nominal", "scale": {"domain": ["P", "A"], "range": ["#ff0000", "#000000"]}}
 }},
{"data": {"name": "labels"}, "transform": [{"filter": "datum.p == 5"}], "mark": {"type": "text", "align": "left", "baseline": "alphabetic", "fontSize": 23, "color": "#000"},
 "encoding": {"y": {"field": "y", "type": "quantitative", "scale": {"domain": [0, 45000], "nice": false, "zero": false}, "axis": null}, "text": {"field": "t"}}}
],
"resolve": {"scale": {"y": "independent"}, "axis": {"y": "independent"}}
}
]
}
